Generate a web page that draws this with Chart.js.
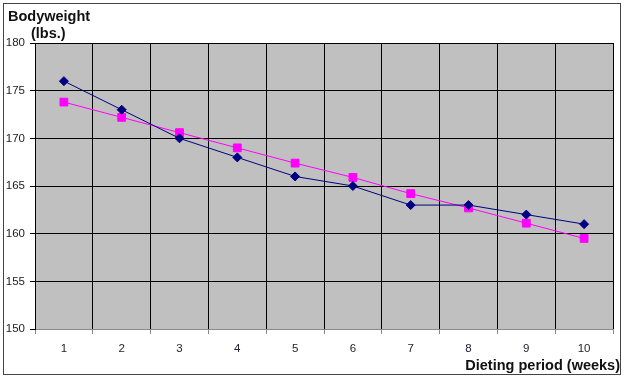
<!DOCTYPE html>
<html><head><meta charset="utf-8">
<script src="https://cdn.jsdelivr.net/npm/chart.js@4"></script>
<style>html,body{margin:0;padding:0;background:#fff}#wrap{width:630px;height:380px}</style>
</head><body><div id="wrap"><canvas id="c" width="630" height="380"></canvas></div>
<script>
const weeks = ['1','2','3','4','5','6','7','8','9','10'];
const actualWeight = [176, 173, 170, 168, 166, 165, 163, 163, 162, 161];
const trendWeight = [173.8, 172.2, 170.6, 169.0, 167.4, 165.9, 164.2, 162.7, 161.1, 159.5];
const yTitleLines = ['Bodyweight', '(lbs.)'];
const xTitle = 'Dieting period (weeks)';

const decor = {
  id: 'decor',
  beforeDraw(chart) {
    const ctx = chart.ctx, a = chart.chartArea;
    ctx.save();
    ctx.fillStyle = '#fff';
    ctx.fillRect(0, 0, chart.width, chart.height);
    ctx.strokeStyle = '#444';
    ctx.lineWidth = 1;
    ctx.strokeRect(3.5, 3.5, 617, 371);
    ctx.fillStyle = '#c0c0c0';
    ctx.fillRect(a.left, a.top, a.right - a.left, a.bottom - a.top);
    ctx.restore();
  },
  afterDraw(chart) {
    const ctx = chart.ctx;
    ctx.save();
    ctx.fillStyle = '#111';
    ctx.font = 'bold 14.5px "Liberation Sans", Arial, sans-serif';
    ctx.textBaseline = 'alphabetic';
    ctx.textAlign = 'left';
    ctx.fillText(yTitleLines[0], 8, 21);
    ctx.fillText(yTitleLines[1], 31, 38);
    ctx.textAlign = 'right';
    ctx.fillText(xTitle, 620, 370);
    ctx.restore();
  }
};

new Chart(document.getElementById('c'), {
  type: 'line',
  data: {
    labels: weeks,
    datasets: [
      { data: actualWeight, borderColor: '#000080', backgroundColor: '#000080', borderWidth: 1,
        pointStyle: 'rectRot', pointRadius: 4.5, pointHoverRadius: 4.5, tension: 0 },
      { data: trendWeight, borderColor: '#ff00ff', backgroundColor: '#ff00ff', borderWidth: 1,
        pointStyle: 'rect', pointRadius: 5.5, pointHoverRadius: 5.5, tension: 0 }
    ]
  },
  options: {
    responsive: false,
    animation: false,
    events: [],
    layout: { padding: { left: 0, top: 43, right: 17, bottom: 0 } },
    plugins: { legend: { display: false }, tooltip: { enabled: false } },
    scales: {
      x: {
        offset: true,
        afterFit(s) { s.height = 51; },
        grid: { offset: true, color: '#000', lineWidth: 1, tickLength: 5, tickColor: '#888', drawOnChartArea: true },
        border: { display: true, color: '#888' },
        ticks: { color: '#223', font: { family: '"Liberation Sans", Arial, sans-serif', size: 11.5 }, padding: 8 }
      },
      y: {
        min: 150, max: 180,
        afterFit(s) { s.width = 35; },
        grid: { color: '#000', lineWidth: 1, tickLength: 5, tickColor: '#000' },
        border: { display: true, color: '#000' },
        ticks: { stepSize: 5, color: '#222', font: { family: '"Liberation Sans", Arial, sans-serif', size: 11.5 }, padding: 5 }
      }
    }
  },
  plugins: [decor]
});
</script>
</body></html>
